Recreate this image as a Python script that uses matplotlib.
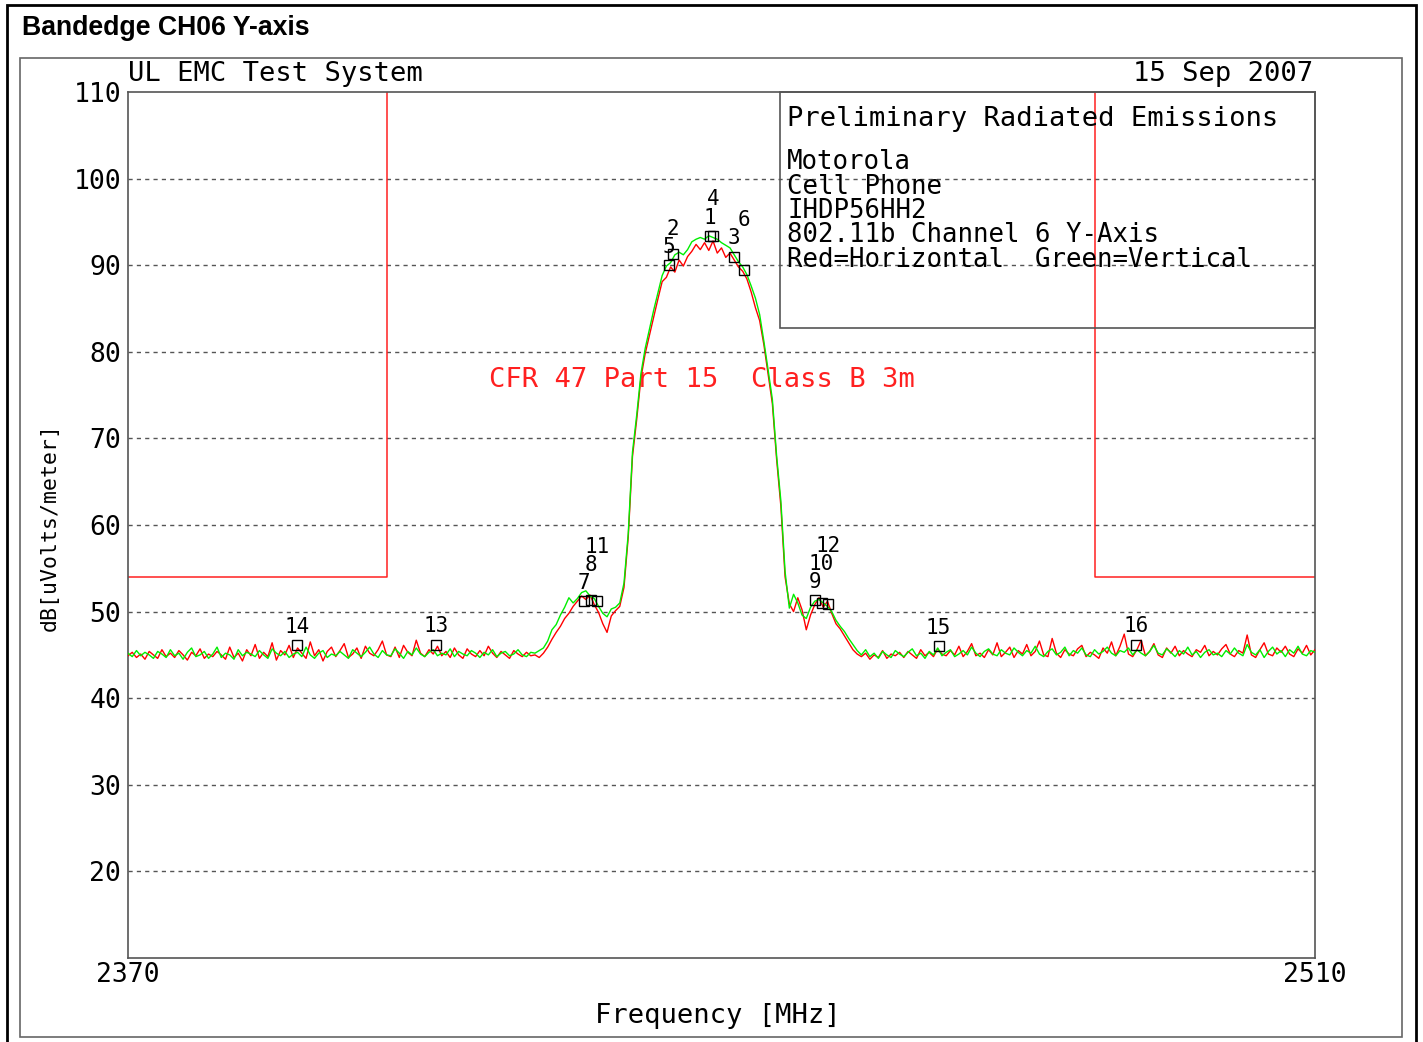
import matplotlib
matplotlib.use("Agg")
import matplotlib.pyplot as plt
import numpy as np
from matplotlib.patches import Rectangle

plt.rcParams['font.family'] = ['DejaVu Sans Mono', 'DejaVu Sans']

# sweep levels, 0.5 MHz steps, 2370 - 2510 MHz
# red trace = horizontal polarisation
horiz_left = [44.9, 45.3, 44.7, 45.1, 44.5, 45.4, 45.0, 44.6, 45.6, 44.8,
              45.2, 44.7, 45.5, 45.0, 44.4, 45.3, 44.9, 45.7, 44.6, 45.1,
              44.8, 45.4, 45.0, 44.5, 45.9, 44.7, 45.2, 44.3, 45.6, 44.9,
              46.2, 44.6, 45.3, 44.8, 46.4, 44.4, 45.5, 45.0, 46.1, 44.7,
              45.8, 45.2, 44.6, 46.5, 44.9, 45.6, 44.3, 45.4, 45.9, 44.8,
              45.5, 46.3, 44.7, 45.1, 45.8, 44.6, 46.0, 45.2, 44.9, 45.6,
              46.6, 45.0, 44.8, 45.9, 44.7, 46.1, 45.3, 44.9, 46.7, 45.2,
              44.8, 45.6, 45.1, 46.0, 44.9, 45.4, 44.7, 45.8, 45.0, 44.6,
              45.7, 45.1, 44.8, 45.5, 44.9, 46.0, 45.2, 44.7, 45.4, 45.0,
              44.6, 45.5, 45.1, 44.8, 45.3, 44.9, 45.0, 44.7]
horiz_band = [45.2, 45.9, 46.8, 47.6, 48.3, 49.2, 49.8, 50.6, 51.2, 51.8,
              51.4, 51.9, 50.8, 49.9, 48.6, 47.6, 49.5, 50.1, 50.6,
              52.8, 58.6, 67.9, 72.2, 77.0, 79.8, 81.9, 84.0, 86.1, 88.1,
              88.6, 89.8, 89.2, 90.6, 89.9, 91.0, 91.6, 92.4, 91.8, 92.6,
              91.7, 92.8, 91.4, 92.0, 90.9, 91.4, 90.6, 89.8, 89.3, 88.4,
              86.9, 85.1, 83.6, 80.8, 77.4, 74.0, 67.6, 62.2, 54.0, 50.9,
              50.0, 51.6, 50.2, 47.9, 49.6, 50.8, 51.6, 50.5, 51.2, 49.8,
              48.6, 48.0, 47.2, 46.4, 45.6, 45.1]
horiz_right = [44.8, 45.2, 44.5, 45.0, 44.7, 45.5, 44.6, 45.1, 44.9, 45.3,
               44.7, 45.4, 45.0, 44.6, 45.6, 44.9, 45.3, 44.8, 45.7, 45.1,
               44.9, 45.5, 45.0, 46.0, 44.8, 45.4, 46.3, 44.9, 45.2, 44.7,
               45.6, 45.0, 46.4, 44.8, 45.3, 45.9, 44.7, 45.5, 45.1, 46.2,
               44.9, 45.4, 46.6, 45.0, 44.8, 46.9, 45.2, 44.7, 45.6, 45.1,
               44.9, 45.7, 46.1, 44.8, 45.3, 45.0, 44.6, 45.8, 45.2, 46.5,
               44.9, 46.0, 47.4, 45.1, 44.8, 45.6, 46.7, 44.9, 45.4, 46.3,
               45.0, 44.7, 45.8, 45.2, 46.0, 44.9, 45.5, 45.1, 44.8, 45.6,
               45.3, 46.1, 44.9, 45.4, 45.0, 45.7, 46.2, 45.1, 44.8, 45.5,
               45.2, 47.3, 45.0, 44.7, 45.6, 46.4, 45.1, 44.9, 45.8, 45.3,
               46.0, 45.1, 44.8, 45.7, 45.2, 46.1, 45.0, 45.6]

# green trace = vertical polarisation
vert_left = [45.2, 44.8, 45.5, 44.9, 45.3, 45.0, 44.6, 45.4, 45.1, 44.7,
             45.6, 44.9, 45.2, 44.5, 45.3, 45.8, 44.8, 45.0, 45.4, 44.6,
             45.1, 45.9, 44.7, 45.2, 45.0, 44.5, 45.6, 44.9, 45.3, 45.1,
             44.8, 45.5, 45.0, 44.6, 45.7, 45.2, 44.9, 45.4, 44.7, 45.1,
             45.3, 44.8, 45.9, 45.0, 44.6, 45.2, 45.5, 44.7, 45.1, 44.9,
             45.4, 45.0, 44.6, 45.6, 45.2, 44.8, 45.3, 45.9, 45.1, 44.7,
             45.5, 45.0, 44.9, 45.7, 45.2, 44.6, 45.4, 45.0, 45.8, 45.1,
             44.8, 45.3, 45.6, 44.9, 45.2, 45.0, 45.7, 44.8, 45.4, 45.1,
             44.9, 45.5, 45.2, 44.7, 45.3, 45.0, 45.6, 44.8, 45.2, 45.4,
             44.9, 45.1, 45.6, 45.0, 44.8, 45.3, 45.2, 45.5]
vert_band = [45.8, 46.6, 47.9, 48.5, 49.6, 50.5, 51.6, 51.0, 51.5, 52.2,
             52.4, 51.8, 51.5, 50.6, 49.8, 49.4, 50.3, 50.5, 51.0,
             53.3, 59.0, 68.4, 72.7, 77.5, 80.4, 82.6, 84.8, 86.8, 88.8,
             89.9, 90.3, 91.2, 91.5, 91.2, 91.8, 92.7, 93.0, 93.2, 93.0,
             93.4, 93.2, 93.0, 92.6, 92.3, 92.0, 91.2, 90.4, 89.8, 88.9,
             87.6, 86.2, 84.3, 81.2, 77.9, 74.5, 68.0, 62.8, 54.6, 50.4,
             52.0, 51.0, 49.6, 49.2, 50.5, 51.2, 51.4, 51.0, 50.6, 50.0,
             49.0, 48.3, 47.7, 46.9, 46.2, 45.5]
vert_right = [45.0, 45.6, 44.8, 45.2, 44.6, 45.4, 45.0, 44.7, 45.5, 45.1,
              44.8, 45.3, 45.7, 44.9, 45.2, 44.6, 45.4, 45.0, 45.8, 44.9,
              45.3, 45.6, 44.8, 45.1, 45.5, 45.0, 45.9, 45.2, 44.8, 45.4,
              45.7, 45.1, 44.9, 45.6, 45.2, 45.0, 45.8, 45.3, 44.9, 45.5,
              45.2, 46.0, 45.1, 44.8, 45.4, 45.7, 45.0, 45.3, 45.9, 44.9,
              45.5, 45.2, 45.8, 45.0, 44.8, 45.6, 45.1, 45.4, 45.9, 45.2,
              44.9, 45.5, 45.3, 45.8, 45.0, 45.6, 45.2, 44.9, 45.4, 46.1,
              45.2, 45.0, 45.7, 45.3, 44.8, 45.5, 45.1, 45.9, 45.0, 45.4,
              44.7, 45.3, 45.6, 45.0, 45.2, 44.8, 45.5, 45.1, 45.8, 45.2,
              44.9, 46.2, 45.3, 45.0, 45.6, 44.7, 45.4, 45.9, 45.1, 45.5,
              44.8, 45.6, 45.2, 46.0, 45.1, 44.9, 45.5, 45.3]

# numbered peak markers
marker_ids = ["1", "2", "3", "4", "5", "6", "7", "8",
              "9", "10", "11", "12", "13", "14", "15", "16"]
marker_freq = [2438.6, 2434.3, 2441.5, 2439.0, 2433.8, 2442.6, 2423.8, 2424.6,
               2451.0, 2451.8, 2425.3, 2452.6, 2406.3, 2389.9, 2465.6, 2488.9]
marker_level = [93.4, 91.3, 91.0, 93.4, 90.0, 89.4, 51.2, 51.3,
                51.3, 51.0, 51.2, 50.9, 46.2, 46.1, 46.0, 46.2]

# FCC part 15 class B limit around the band
limit_low_freq = [2370, 2400.6, 2400.6]
limit_low_level = [54, 54, 110]
limit_high_freq = [2484.0, 2484.0, 2510]
limit_high_level = [110, 54, 54]

y_ticks = [20, 30, 40, 50, 60, 70, 80, 90, 100, 110]
x_ticks = [2370, 2510]

info_lines = ["Motorola", "Cell Phone", "IHDP56HH2",
              "802.11b Channel 6 Y-Axis", "Red=Horizontal  Green=Vertical"]

W, H = 1423, 1042


def fx(px):
    return px / W


def fy(py):
    return 1 - py / H


horiz = horiz_left + horiz_band + horiz_right
vert = vert_left + vert_band + vert_right
freq_h = np.linspace(2370, 2510, len(horiz))
freq_v = np.linspace(2370, 2510, len(vert))

fig = plt.figure(figsize=(W / 100, H / 100), dpi=100)

# outer frame and plotter frame
fig.add_artist(Rectangle((fx(7), fy(1046)), fx(1416) - fx(7), (1046 - 5) / H,
                         transform=fig.transFigure, fill=False, lw=2, ec='black'))
fig.add_artist(Rectangle((fx(20), fy(1037)), fx(1402) - fx(20), (1037 - 58) / H,
                         transform=fig.transFigure, fill=False, lw=1.2, ec='#666666'))
fig.text(fx(22), fy(28), "Bandedge CH06 Y-axis", family='Liberation Sans',
         weight='bold', size=19.2, ha='left', va='center')

ax = fig.add_axes([fx(128), fy(958), (1315 - 128) / W, (958 - 92) / H])
ax.set_xlim(2370, 2510)
ax.set_ylim(10, 110)

for v in y_ticks[:-1]:
    ax.axhline(v, color='#555555', lw=1, ls=(0, (3, 3)), zorder=1)

ax.plot(limit_low_freq, limit_low_level, color='#ff2020', lw=1.1, zorder=2)
ax.plot(limit_high_freq, limit_high_level, color='#ff2020', lw=1.1, zorder=2)

ax.plot(freq_h, horiz, color='#ff0000', lw=1.0, zorder=3)
ax.plot(freq_v, vert, color='#00ee00', lw=1.0, zorder=4)

ax.plot(marker_freq, marker_level, ls='none', marker='s', ms=6.5, mfc='none',
        mec='black', mew=1.0, zorder=5)

# marker numbers sit just above each marker, stacked where they would collide
placed = []
order = sorted(range(len(marker_ids)), key=lambda k: marker_freq[k])
for k in order:
    lab, f, v = marker_ids[k], marker_freq[k], marker_level[k]
    half = 0.95 * len(lab) + 0.2
    y = v + 2.1
    bumped = True
    while bumped:
        bumped = False
        for x0, x1, py in placed:
            if f - half < x1 and f + half > x0 and abs(y - py) < 2.0:
                y = py + 2.1
                bumped = True
    placed.append((f - half, f + half, y))
    ax.text(f, y, lab, ha='center', va='center', size=15, zorder=6)

ax.text(2412.6, 76.7, "CFR 47 Part 15  Class B 3m", color='#ff2020', size=19.5,
        ha='left', va='center')

for s in ax.spines.values():
    s.set_color('#555555')
    s.set_linewidth(1.2)
ax.set_yticks(y_ticks)
ax.set_yticklabels([str(t) for t in y_ticks])
ax.set_xticks(x_ticks)
ax.set_xticklabels([str(t) for t in x_ticks])
ax.tick_params(length=0, labelsize=19)
ax.tick_params(axis='y', pad=5)
ax.tick_params(axis='x', pad=3)

fig.text(fx(718), fy(1016), "Frequency [MHz]", size=19.5, ha='center', va='center')
fig.text(fx(50), fy(527), "dB[uVolts/meter]", size=15.5, rotation=90,
         ha='center', va='center')
fig.text(fx(128), fy(74), "UL EMC Test System", size=19.5, ha='left', va='center')
fig.text(fx(1313), fy(74), "15 Sep 2007", size=19.5, ha='right', va='center')

# info box upper right
fig.add_artist(Rectangle((fx(780), fy(328)), fx(1315) - fx(780), (328 - 92) / H,
                         transform=fig.transFigure, fill=False, lw=1.2, ec='#555555'))
fig.text(fx(787), fy(119), "Preliminary Radiated Emissions", size=19.5,
         ha='left', va='center')
for i, line in enumerate(info_lines):
    fig.text(fx(787), fy(162 + 24.5 * i), line, size=18.5, ha='left', va='center')

fig.savefig("out.png", dpi=100)
